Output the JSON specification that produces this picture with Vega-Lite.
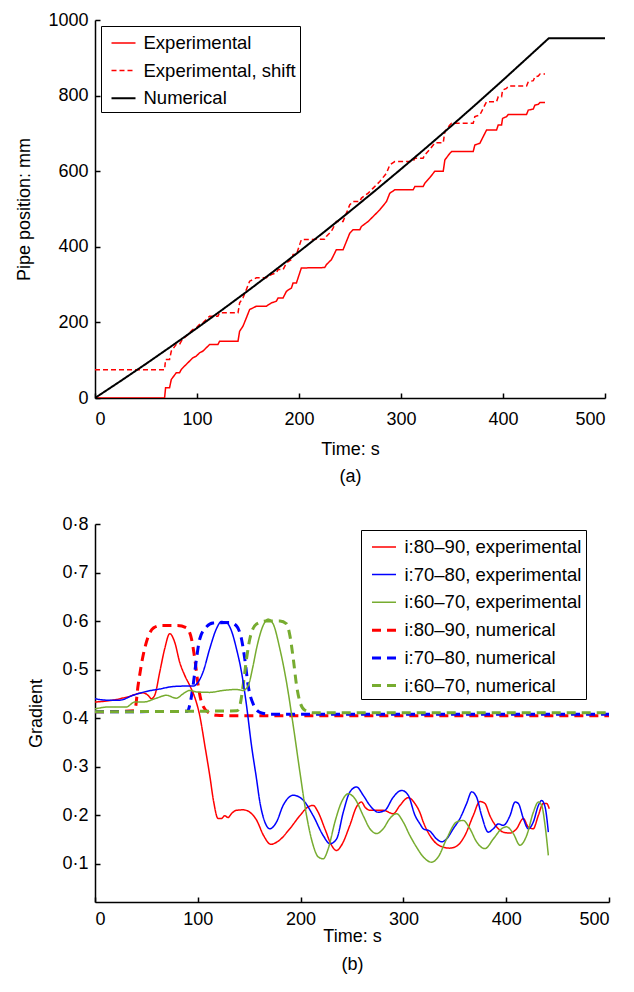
{
  "$schema": "https://vega.github.io/schema/vega-lite/v6.json",
  "padding": {"left": 15, "top": 11, "right": 5, "bottom": 5},
  "spacing": 30,
  "datasets": {
    "pos": [
      {"t": 0, "p": 0, "s": "Experimental"}, {"t": 68.2, "p": 0, "s": "Experimental"}, {"t": 69.2, "p": 27, "s": "Experimental"}, {"t": 73.1, "p": 27, "s": "Experimental"}, {"t": 74.8, "p": 49, "s": "Experimental"}, {"t": 79.7, "p": 66.8, "s": "Experimental"}, {"t": 82.9, "p": 66.8, "s": "Experimental"}, {"t": 84.6, "p": 75.6, "s": "Experimental"}, {"t": 87.8, "p": 84.4, "s": "Experimental"}, {"t": 92.7, "p": 97.6, "s": "Experimental"}, {"t": 96, "p": 106.4, "s": "Experimental"}, {"t": 99.3, "p": 110.8, "s": "Experimental"}, {"t": 102.5, "p": 119.6, "s": "Experimental"}, {"t": 105.8, "p": 124, "s": "Experimental"}, {"t": 112.4, "p": 141.6, "s": "Experimental"}, {"t": 120.5, "p": 141.6, "s": "Experimental"}, {"t": 122.2, "p": 150.4, "s": "Experimental"}, {"t": 140.2, "p": 150.4, "s": "Experimental"}, {"t": 141.8, "p": 176.8, "s": "Experimental"}, {"t": 145.1, "p": 190, "s": "Experimental"}, {"t": 148.4, "p": 212, "s": "Experimental"}, {"t": 151.6, "p": 234, "s": "Experimental"}, {"t": 158.2, "p": 242.8, "s": "Experimental"}, {"t": 168, "p": 242.8, "s": "Experimental"}, {"t": 172.9, "p": 251.6, "s": "Experimental"}, {"t": 177.8, "p": 256, "s": "Experimental"}, {"t": 179.5, "p": 264.8, "s": "Experimental"}, {"t": 184.4, "p": 264.8, "s": "Experimental"}, {"t": 187.7, "p": 282.4, "s": "Experimental"}, {"t": 192.6, "p": 291.2, "s": "Experimental"}, {"t": 194.2, "p": 304.4, "s": "Experimental"}, {"t": 197.5, "p": 304.4, "s": "Experimental"}, {"t": 199, "p": 317, "s": "Experimental"}, {"t": 202.3, "p": 344, "s": "Experimental"}, {"t": 225.2, "p": 345, "s": "Experimental"}, {"t": 226.8, "p": 352.6, "s": "Experimental"}, {"t": 231.7, "p": 365.8, "s": "Experimental"}, {"t": 233.4, "p": 374.6, "s": "Experimental"}, {"t": 236.6, "p": 392.2, "s": "Experimental"}, {"t": 243.2, "p": 392.2, "s": "Experimental"}, {"t": 246.5, "p": 414.2, "s": "Experimental"}, {"t": 249.8, "p": 436.2, "s": "Experimental"}, {"t": 253, "p": 445, "s": "Experimental"}, {"t": 259.6, "p": 445, "s": "Experimental"}, {"t": 261.2, "p": 453.8, "s": "Experimental"}, {"t": 267.8, "p": 467, "s": "Experimental"}, {"t": 272.7, "p": 480.2, "s": "Experimental"}, {"t": 279.2, "p": 497.8, "s": "Experimental"}, {"t": 285.8, "p": 519.8, "s": "Experimental"}, {"t": 289, "p": 541.8, "s": "Experimental"}, {"t": 293.9, "p": 550.6, "s": "Experimental"}, {"t": 311.9, "p": 550.6, "s": "Experimental"}, {"t": 313.6, "p": 559.4, "s": "Experimental"}, {"t": 321.7, "p": 559.4, "s": "Experimental"}, {"t": 323.4, "p": 568.2, "s": "Experimental"}, {"t": 328.3, "p": 583, "s": "Experimental"}, {"t": 333.2, "p": 600, "s": "Experimental"}, {"t": 341.4, "p": 600, "s": "Experimental"}, {"t": 343, "p": 629.8, "s": "Experimental"}, {"t": 347.9, "p": 647.4, "s": "Experimental"}, {"t": 349.6, "p": 651.8, "s": "Experimental"}, {"t": 370.8, "p": 651.8, "s": "Experimental"}, {"t": 372.4, "p": 669.4, "s": "Experimental"}, {"t": 377.3, "p": 673.8, "s": "Experimental"}, {"t": 380.6, "p": 691.4, "s": "Experimental"}, {"t": 383.9, "p": 709, "s": "Experimental"}, {"t": 393.7, "p": 709, "s": "Experimental"}, {"t": 395.3, "p": 722.2, "s": "Experimental"}, {"t": 398.6, "p": 722.2, "s": "Experimental"}, {"t": 399.6, "p": 739.8, "s": "Experimental"}, {"t": 403.5, "p": 744.2, "s": "Experimental"}, {"t": 405.2, "p": 750.3, "s": "Experimental"}, {"t": 423.1, "p": 750.3, "s": "Experimental"}, {"t": 424.8, "p": 761.7, "s": "Experimental"}, {"t": 429.7, "p": 764.4, "s": "Experimental"}, {"t": 431.3, "p": 774.9, "s": "Experimental"}, {"t": 434.6, "p": 776.7, "s": "Experimental"}, {"t": 436.3, "p": 782, "s": "Experimental"}, {"t": 441.2, "p": 782, "s": "Experimental"},
      {"t": 0, "p": 75, "s": "Experimental, shift"}, {"t": 68.2, "p": 75, "s": "Experimental, shift"}, {"t": 69.2, "p": 102, "s": "Experimental, shift"}, {"t": 73.1, "p": 102, "s": "Experimental, shift"}, {"t": 74.8, "p": 124, "s": "Experimental, shift"}, {"t": 79.7, "p": 141.8, "s": "Experimental, shift"}, {"t": 82.9, "p": 141.8, "s": "Experimental, shift"}, {"t": 84.6, "p": 150.6, "s": "Experimental, shift"}, {"t": 87.8, "p": 159.4, "s": "Experimental, shift"}, {"t": 92.7, "p": 172.6, "s": "Experimental, shift"}, {"t": 96, "p": 181.4, "s": "Experimental, shift"}, {"t": 99.3, "p": 185.8, "s": "Experimental, shift"}, {"t": 102.5, "p": 194.6, "s": "Experimental, shift"}, {"t": 105.8, "p": 199, "s": "Experimental, shift"}, {"t": 112.4, "p": 216.6, "s": "Experimental, shift"}, {"t": 120.5, "p": 216.6, "s": "Experimental, shift"}, {"t": 122.2, "p": 225.4, "s": "Experimental, shift"}, {"t": 140.2, "p": 225.4, "s": "Experimental, shift"}, {"t": 141.8, "p": 251.8, "s": "Experimental, shift"}, {"t": 145.1, "p": 265, "s": "Experimental, shift"}, {"t": 148.4, "p": 287, "s": "Experimental, shift"}, {"t": 151.6, "p": 309, "s": "Experimental, shift"}, {"t": 158.2, "p": 317.8, "s": "Experimental, shift"}, {"t": 168, "p": 317.8, "s": "Experimental, shift"}, {"t": 172.9, "p": 326.6, "s": "Experimental, shift"}, {"t": 177.8, "p": 331, "s": "Experimental, shift"}, {"t": 179.5, "p": 339.8, "s": "Experimental, shift"}, {"t": 184.4, "p": 339.8, "s": "Experimental, shift"}, {"t": 187.7, "p": 357.4, "s": "Experimental, shift"}, {"t": 192.6, "p": 366.2, "s": "Experimental, shift"}, {"t": 194.2, "p": 379.4, "s": "Experimental, shift"}, {"t": 197.5, "p": 379.4, "s": "Experimental, shift"}, {"t": 199, "p": 392, "s": "Experimental, shift"}, {"t": 202.3, "p": 419, "s": "Experimental, shift"}, {"t": 225.2, "p": 420, "s": "Experimental, shift"}, {"t": 226.8, "p": 427.6, "s": "Experimental, shift"}, {"t": 231.7, "p": 440.8, "s": "Experimental, shift"}, {"t": 233.4, "p": 449.6, "s": "Experimental, shift"}, {"t": 236.6, "p": 467.2, "s": "Experimental, shift"}, {"t": 243.2, "p": 467.2, "s": "Experimental, shift"}, {"t": 246.5, "p": 489.2, "s": "Experimental, shift"}, {"t": 249.8, "p": 511.2, "s": "Experimental, shift"}, {"t": 253, "p": 520, "s": "Experimental, shift"}, {"t": 259.6, "p": 520, "s": "Experimental, shift"}, {"t": 261.2, "p": 528.8, "s": "Experimental, shift"}, {"t": 267.8, "p": 542, "s": "Experimental, shift"}, {"t": 272.7, "p": 555.2, "s": "Experimental, shift"}, {"t": 279.2, "p": 572.8, "s": "Experimental, shift"}, {"t": 285.8, "p": 594.8, "s": "Experimental, shift"}, {"t": 289, "p": 616.8, "s": "Experimental, shift"}, {"t": 293.9, "p": 625.6, "s": "Experimental, shift"}, {"t": 311.9, "p": 625.6, "s": "Experimental, shift"}, {"t": 313.6, "p": 634.4, "s": "Experimental, shift"}, {"t": 321.7, "p": 634.4, "s": "Experimental, shift"}, {"t": 323.4, "p": 643.2, "s": "Experimental, shift"}, {"t": 328.3, "p": 658, "s": "Experimental, shift"}, {"t": 333.2, "p": 675, "s": "Experimental, shift"}, {"t": 341.4, "p": 675, "s": "Experimental, shift"}, {"t": 343, "p": 704.8, "s": "Experimental, shift"}, {"t": 347.9, "p": 722.4, "s": "Experimental, shift"}, {"t": 349.6, "p": 726.8, "s": "Experimental, shift"}, {"t": 370.8, "p": 726.8, "s": "Experimental, shift"}, {"t": 372.4, "p": 744.4, "s": "Experimental, shift"}, {"t": 377.3, "p": 748.8, "s": "Experimental, shift"}, {"t": 380.6, "p": 766.4, "s": "Experimental, shift"}, {"t": 383.9, "p": 784, "s": "Experimental, shift"}, {"t": 393.7, "p": 784, "s": "Experimental, shift"}, {"t": 395.3, "p": 797.2, "s": "Experimental, shift"}, {"t": 398.6, "p": 797.2, "s": "Experimental, shift"}, {"t": 399.6, "p": 814.8, "s": "Experimental, shift"}, {"t": 403.5, "p": 819.2, "s": "Experimental, shift"}, {"t": 405.2, "p": 825.3, "s": "Experimental, shift"}, {"t": 423.1, "p": 825.3, "s": "Experimental, shift"}, {"t": 424.8, "p": 836.7, "s": "Experimental, shift"}, {"t": 429.7, "p": 839.4, "s": "Experimental, shift"}, {"t": 431.3, "p": 849.9, "s": "Experimental, shift"}, {"t": 434.6, "p": 851.7, "s": "Experimental, shift"}, {"t": 436.3, "p": 857, "s": "Experimental, shift"}, {"t": 441.2, "p": 857, "s": "Experimental, shift"},
      {"t": 0, "p": 0, "s": "Numerical"}, {"t": 25, "p": 44.7, "s": "Numerical"}, {"t": 50, "p": 90.4, "s": "Numerical"}, {"t": 75, "p": 137.2, "s": "Numerical"}, {"t": 100, "p": 185, "s": "Numerical"}, {"t": 125, "p": 233.9, "s": "Numerical"}, {"t": 150, "p": 283.8, "s": "Numerical"}, {"t": 175, "p": 334.8, "s": "Numerical"}, {"t": 200, "p": 386.9, "s": "Numerical"}, {"t": 225, "p": 440, "s": "Numerical"}, {"t": 250, "p": 494.1, "s": "Numerical"}, {"t": 275, "p": 549.3, "s": "Numerical"}, {"t": 300, "p": 605.6, "s": "Numerical"}, {"t": 325, "p": 662.9, "s": "Numerical"}, {"t": 350, "p": 721.2, "s": "Numerical"}, {"t": 375, "p": 780.6, "s": "Numerical"}, {"t": 400, "p": 841.1, "s": "Numerical"}, {"t": 425, "p": 902.6, "s": "Numerical"}, {"t": 445, "p": 952, "s": "Numerical"}, {"t": 500, "p": 952, "s": "Numerical"}
    ],
    "grad": [
      {"t": 0, "g": 0.413, "s": "i:80–90, numerical"}, {"t": 38.6, "g": 0.415, "s": "i:80–90, numerical"}, {"t": 41.9, "g": 0.467, "s": "i:80–90, numerical"}, {"t": 46.8, "g": 0.529, "s": "i:80–90, numerical"}, {"t": 51.6, "g": 0.567, "s": "i:80–90, numerical"}, {"t": 57, "g": 0.586, "s": "i:80–90, numerical"}, {"t": 65, "g": 0.591, "s": "i:80–90, numerical"}, {"t": 80, "g": 0.591, "s": "i:80–90, numerical"}, {"t": 89, "g": 0.586, "s": "i:80–90, numerical"}, {"t": 93.9, "g": 0.563, "s": "i:80–90, numerical"}, {"t": 97.1, "g": 0.522, "s": "i:80–90, numerical"}, {"t": 100.4, "g": 0.467, "s": "i:80–90, numerical"}, {"t": 103.6, "g": 0.433, "s": "i:80–90, numerical"}, {"t": 110.1, "g": 0.412, "s": "i:80–90, numerical"}, {"t": 118.2, "g": 0.406, "s": "i:80–90, numerical"}, {"t": 130, "g": 0.405, "s": "i:80–90, numerical"}, {"t": 500, "g": 0.405, "s": "i:80–90, numerical"},
      {"t": 0, "g": 0.413, "s": "i:70–80, numerical"}, {"t": 90, "g": 0.414, "s": "i:70–80, numerical"}, {"t": 92.5, "g": 0.43, "s": "i:70–80, numerical"}, {"t": 95.4, "g": 0.467, "s": "i:70–80, numerical"}, {"t": 98.7, "g": 0.522, "s": "i:70–80, numerical"}, {"t": 101.9, "g": 0.563, "s": "i:70–80, numerical"}, {"t": 108.4, "g": 0.588, "s": "i:70–80, numerical"}, {"t": 114.9, "g": 0.596, "s": "i:70–80, numerical"}, {"t": 131.1, "g": 0.597, "s": "i:70–80, numerical"}, {"t": 137.6, "g": 0.59, "s": "i:70–80, numerical"}, {"t": 142.5, "g": 0.563, "s": "i:70–80, numerical"}, {"t": 145.7, "g": 0.522, "s": "i:70–80, numerical"}, {"t": 149, "g": 0.467, "s": "i:70–80, numerical"}, {"t": 153.9, "g": 0.429, "s": "i:70–80, numerical"}, {"t": 160.4, "g": 0.412, "s": "i:70–80, numerical"}, {"t": 170, "g": 0.408, "s": "i:70–80, numerical"}, {"t": 500, "g": 0.408, "s": "i:70–80, numerical"},
      {"t": 0, "g": 0.413, "s": "i:60–70, numerical"}, {"t": 138, "g": 0.415, "s": "i:60–70, numerical"}, {"t": 140.8, "g": 0.425, "s": "i:60–70, numerical"}, {"t": 144.1, "g": 0.467, "s": "i:60–70, numerical"}, {"t": 147.4, "g": 0.522, "s": "i:60–70, numerical"}, {"t": 150.6, "g": 0.563, "s": "i:60–70, numerical"}, {"t": 157.1, "g": 0.594, "s": "i:60–70, numerical"}, {"t": 166.9, "g": 0.6, "s": "i:60–70, numerical"}, {"t": 179.9, "g": 0.6, "s": "i:60–70, numerical"}, {"t": 186.4, "g": 0.594, "s": "i:60–70, numerical"}, {"t": 189.6, "g": 0.57, "s": "i:60–70, numerical"}, {"t": 192.9, "g": 0.522, "s": "i:60–70, numerical"}, {"t": 196.1, "g": 0.467, "s": "i:60–70, numerical"}, {"t": 199.4, "g": 0.433, "s": "i:60–70, numerical"}, {"t": 204.2, "g": 0.416, "s": "i:60–70, numerical"}, {"t": 212, "g": 0.411, "s": "i:60–70, numerical"}, {"t": 500, "g": 0.411, "s": "i:60–70, numerical"},
      {"t": 0, "g": 0.433, "s": "i:80–90, experimental"}, {"t": 14.3, "g": 0.436, "s": "i:80–90, experimental"}, {"t": 30.5, "g": 0.443, "s": "i:80–90, experimental"}, {"t": 46.7, "g": 0.452, "s": "i:80–90, experimental"}, {"t": 51.6, "g": 0.447, "s": "i:80–90, experimental"}, {"t": 54.9, "g": 0.44, "s": "i:80–90, experimental"}, {"t": 58.1, "g": 0.447, "s": "i:80–90, experimental"}, {"t": 63, "g": 0.495, "s": "i:80–90, experimental"}, {"t": 67.8, "g": 0.543, "s": "i:80–90, experimental"}, {"t": 72.7, "g": 0.574, "s": "i:80–90, experimental"}, {"t": 77.6, "g": 0.556, "s": "i:80–90, experimental"}, {"t": 82.4, "g": 0.515, "s": "i:80–90, experimental"}, {"t": 87.3, "g": 0.488, "s": "i:80–90, experimental"}, {"t": 92.2, "g": 0.467, "s": "i:80–90, experimental"}, {"t": 97, "g": 0.443, "s": "i:80–90, experimental"}, {"t": 101.9, "g": 0.405, "s": "i:80–90, experimental"}, {"t": 106.8, "g": 0.344, "s": "i:80–90, experimental"}, {"t": 111.6, "g": 0.282, "s": "i:80–90, experimental"}, {"t": 115.5, "g": 0.227, "s": "i:80–90, experimental"}, {"t": 119.7, "g": 0.193, "s": "i:80–90, experimental"}, {"t": 123, "g": 0.193, "s": "i:80–90, experimental"}, {"t": 126.2, "g": 0.199, "s": "i:80–90, experimental"}, {"t": 129.5, "g": 0.195, "s": "i:80–90, experimental"}, {"t": 132.7, "g": 0.203, "s": "i:80–90, experimental"}, {"t": 137.6, "g": 0.21, "s": "i:80–90, experimental"}, {"t": 144.1, "g": 0.211, "s": "i:80–90, experimental"}, {"t": 150.6, "g": 0.206, "s": "i:80–90, experimental"}, {"t": 157.1, "g": 0.19, "s": "i:80–90, experimental"}, {"t": 164, "g": 0.158, "s": "i:80–90, experimental"}, {"t": 171, "g": 0.14, "s": "i:80–90, experimental"}, {"t": 178, "g": 0.146, "s": "i:80–90, experimental"}, {"t": 189.5, "g": 0.172, "s": "i:80–90, experimental"}, {"t": 199.3, "g": 0.199, "s": "i:80–90, experimental"}, {"t": 207.3, "g": 0.217, "s": "i:80–90, experimental"}, {"t": 212.2, "g": 0.22, "s": "i:80–90, experimental"}, {"t": 217.1, "g": 0.206, "s": "i:80–90, experimental"}, {"t": 223.6, "g": 0.172, "s": "i:80–90, experimental"}, {"t": 230.1, "g": 0.138, "s": "i:80–90, experimental"}, {"t": 234.9, "g": 0.127, "s": "i:80–90, experimental"}, {"t": 239.8, "g": 0.138, "s": "i:80–90, experimental"}, {"t": 247.9, "g": 0.179, "s": "i:80–90, experimental"}, {"t": 254.4, "g": 0.217, "s": "i:80–90, experimental"}, {"t": 259.3, "g": 0.227, "s": "i:80–90, experimental"}, {"t": 262.5, "g": 0.217, "s": "i:80–90, experimental"}, {"t": 267.4, "g": 0.21, "s": "i:80–90, experimental"}, {"t": 280.4, "g": 0.21, "s": "i:80–90, experimental"}, {"t": 290.1, "g": 0.203, "s": "i:80–90, experimental"}, {"t": 296.6, "g": 0.22, "s": "i:80–90, experimental"}, {"t": 304.7, "g": 0.236, "s": "i:80–90, experimental"}, {"t": 311.2, "g": 0.224, "s": "i:80–90, experimental"}, {"t": 316.1, "g": 0.205, "s": "i:80–90, experimental"}, {"t": 319.3, "g": 0.186, "s": "i:80–90, experimental"}, {"t": 325.8, "g": 0.158, "s": "i:80–90, experimental"}, {"t": 332.3, "g": 0.141, "s": "i:80–90, experimental"}, {"t": 338.8, "g": 0.134, "s": "i:80–90, experimental"}, {"t": 345.2, "g": 0.132, "s": "i:80–90, experimental"}, {"t": 351.7, "g": 0.136, "s": "i:80–90, experimental"}, {"t": 359.8, "g": 0.158, "s": "i:80–90, experimental"}, {"t": 367.9, "g": 0.199, "s": "i:80–90, experimental"}, {"t": 374.4, "g": 0.228, "s": "i:80–90, experimental"}, {"t": 379.3, "g": 0.224, "s": "i:80–90, experimental"}, {"t": 384.1, "g": 0.199, "s": "i:80–90, experimental"}, {"t": 390.6, "g": 0.176, "s": "i:80–90, experimental"}, {"t": 397.1, "g": 0.165, "s": "i:80–90, experimental"}, {"t": 403.6, "g": 0.163, "s": "i:80–90, experimental"}, {"t": 410.1, "g": 0.172, "s": "i:80–90, experimental"}, {"t": 416.6, "g": 0.193, "s": "i:80–90, experimental"}, {"t": 421.4, "g": 0.176, "s": "i:80–90, experimental"}, {"t": 426.3, "g": 0.172, "s": "i:80–90, experimental"}, {"t": 431.2, "g": 0.199, "s": "i:80–90, experimental"}, {"t": 436, "g": 0.224, "s": "i:80–90, experimental"}, {"t": 439.3, "g": 0.224, "s": "i:80–90, experimental"}, {"t": 441.9, "g": 0.213, "s": "i:80–90, experimental"},
      {"t": 0, "g": 0.44, "s": "i:70–80, experimental"}, {"t": 11.1, "g": 0.437, "s": "i:70–80, experimental"}, {"t": 24, "g": 0.437, "s": "i:70–80, experimental"}, {"t": 37, "g": 0.447, "s": "i:70–80, experimental"}, {"t": 50, "g": 0.455, "s": "i:70–80, experimental"}, {"t": 63, "g": 0.46, "s": "i:70–80, experimental"}, {"t": 75.9, "g": 0.465, "s": "i:70–80, experimental"}, {"t": 88.9, "g": 0.466, "s": "i:70–80, experimental"}, {"t": 95.4, "g": 0.466, "s": "i:70–80, experimental"}, {"t": 100.3, "g": 0.474, "s": "i:70–80, experimental"}, {"t": 105.1, "g": 0.495, "s": "i:70–80, experimental"}, {"t": 111.6, "g": 0.543, "s": "i:70–80, experimental"}, {"t": 118.1, "g": 0.584, "s": "i:70–80, experimental"}, {"t": 123, "g": 0.599, "s": "i:70–80, experimental"}, {"t": 127.9, "g": 0.597, "s": "i:70–80, experimental"}, {"t": 132.7, "g": 0.58, "s": "i:70–80, experimental"}, {"t": 137.6, "g": 0.543, "s": "i:70–80, experimental"}, {"t": 142.5, "g": 0.495, "s": "i:70–80, experimental"}, {"t": 147.4, "g": 0.426, "s": "i:70–80, experimental"}, {"t": 152.2, "g": 0.344, "s": "i:70–80, experimental"}, {"t": 157.1, "g": 0.275, "s": "i:70–80, experimental"}, {"t": 160.3, "g": 0.228, "s": "i:70–80, experimental"}, {"t": 165.2, "g": 0.186, "s": "i:70–80, experimental"}, {"t": 170.1, "g": 0.172, "s": "i:70–80, experimental"}, {"t": 176.6, "g": 0.186, "s": "i:70–80, experimental"}, {"t": 183, "g": 0.22, "s": "i:70–80, experimental"}, {"t": 192.8, "g": 0.241, "s": "i:70–80, experimental"}, {"t": 202.5, "g": 0.231, "s": "i:70–80, experimental"}, {"t": 212.2, "g": 0.199, "s": "i:70–80, experimental"}, {"t": 222, "g": 0.158, "s": "i:70–80, experimental"}, {"t": 228.5, "g": 0.141, "s": "i:70–80, experimental"}, {"t": 235, "g": 0.151, "s": "i:70–80, experimental"}, {"t": 241.5, "g": 0.206, "s": "i:70–80, experimental"}, {"t": 248, "g": 0.248, "s": "i:70–80, experimental"}, {"t": 254.4, "g": 0.258, "s": "i:70–80, experimental"}, {"t": 260.9, "g": 0.241, "s": "i:70–80, experimental"}, {"t": 267.4, "g": 0.22, "s": "i:70–80, experimental"}, {"t": 275.6, "g": 0.206, "s": "i:70–80, experimental"}, {"t": 282.1, "g": 0.21, "s": "i:70–80, experimental"}, {"t": 290.1, "g": 0.237, "s": "i:70–80, experimental"}, {"t": 298.3, "g": 0.251, "s": "i:70–80, experimental"}, {"t": 304.7, "g": 0.241, "s": "i:70–80, experimental"}, {"t": 311.2, "g": 0.2, "s": "i:70–80, experimental"}, {"t": 316.1, "g": 0.182, "s": "i:70–80, experimental"}, {"t": 319.3, "g": 0.172, "s": "i:70–80, experimental"}, {"t": 325.8, "g": 0.167, "s": "i:70–80, experimental"}, {"t": 332.3, "g": 0.151, "s": "i:70–80, experimental"}, {"t": 337.2, "g": 0.145, "s": "i:70–80, experimental"}, {"t": 342, "g": 0.151, "s": "i:70–80, experimental"}, {"t": 348.5, "g": 0.172, "s": "i:70–80, experimental"}, {"t": 355, "g": 0.193, "s": "i:70–80, experimental"}, {"t": 361.5, "g": 0.224, "s": "i:70–80, experimental"}, {"t": 366.4, "g": 0.248, "s": "i:70–80, experimental"}, {"t": 371.2, "g": 0.237, "s": "i:70–80, experimental"}, {"t": 376.1, "g": 0.199, "s": "i:70–80, experimental"}, {"t": 382.6, "g": 0.165, "s": "i:70–80, experimental"}, {"t": 387.5, "g": 0.172, "s": "i:70–80, experimental"}, {"t": 392.4, "g": 0.182, "s": "i:70–80, experimental"}, {"t": 397.2, "g": 0.179, "s": "i:70–80, experimental"}, {"t": 403.7, "g": 0.199, "s": "i:70–80, experimental"}, {"t": 408.6, "g": 0.227, "s": "i:70–80, experimental"}, {"t": 411.8, "g": 0.224, "s": "i:70–80, experimental"}, {"t": 416.7, "g": 0.193, "s": "i:70–80, experimental"}, {"t": 421.5, "g": 0.172, "s": "i:70–80, experimental"}, {"t": 426.4, "g": 0.186, "s": "i:70–80, experimental"}, {"t": 431.3, "g": 0.22, "s": "i:70–80, experimental"}, {"t": 434.5, "g": 0.23, "s": "i:70–80, experimental"}, {"t": 437.8, "g": 0.217, "s": "i:70–80, experimental"}, {"t": 441, "g": 0.165, "s": "i:70–80, experimental"},
      {"t": 0, "g": 0.419, "s": "i:60–70, experimental"}, {"t": 14.3, "g": 0.423, "s": "i:60–70, experimental"}, {"t": 30.5, "g": 0.423, "s": "i:60–70, experimental"}, {"t": 38.6, "g": 0.433, "s": "i:60–70, experimental"}, {"t": 46.7, "g": 0.433, "s": "i:60–70, experimental"}, {"t": 59.7, "g": 0.441, "s": "i:60–70, experimental"}, {"t": 69.4, "g": 0.447, "s": "i:60–70, experimental"}, {"t": 79.2, "g": 0.441, "s": "i:60–70, experimental"}, {"t": 85.6, "g": 0.45, "s": "i:60–70, experimental"}, {"t": 92.2, "g": 0.457, "s": "i:60–70, experimental"}, {"t": 98.7, "g": 0.454, "s": "i:60–70, experimental"}, {"t": 111.6, "g": 0.453, "s": "i:60–70, experimental"}, {"t": 124.6, "g": 0.457, "s": "i:60–70, experimental"}, {"t": 137.6, "g": 0.459, "s": "i:60–70, experimental"}, {"t": 144.1, "g": 0.457, "s": "i:60–70, experimental"}, {"t": 149, "g": 0.467, "s": "i:60–70, experimental"}, {"t": 153.8, "g": 0.508, "s": "i:60–70, experimental"}, {"t": 157.1, "g": 0.543, "s": "i:60–70, experimental"}, {"t": 163.6, "g": 0.591, "s": "i:60–70, experimental"}, {"t": 168.4, "g": 0.604, "s": "i:60–70, experimental"}, {"t": 173.3, "g": 0.594, "s": "i:60–70, experimental"}, {"t": 179.8, "g": 0.543, "s": "i:60–70, experimental"}, {"t": 186.3, "g": 0.474, "s": "i:60–70, experimental"}, {"t": 192.8, "g": 0.385, "s": "i:60–70, experimental"}, {"t": 199.3, "g": 0.289, "s": "i:60–70, experimental"}, {"t": 205.8, "g": 0.199, "s": "i:60–70, experimental"}, {"t": 212.2, "g": 0.138, "s": "i:60–70, experimental"}, {"t": 217.1, "g": 0.114, "s": "i:60–70, experimental"}, {"t": 222, "g": 0.11, "s": "i:60–70, experimental"}, {"t": 226.9, "g": 0.131, "s": "i:60–70, experimental"}, {"t": 233.4, "g": 0.186, "s": "i:60–70, experimental"}, {"t": 239.8, "g": 0.227, "s": "i:60–70, experimental"}, {"t": 246.3, "g": 0.244, "s": "i:60–70, experimental"}, {"t": 252.8, "g": 0.234, "s": "i:60–70, experimental"}, {"t": 260.9, "g": 0.199, "s": "i:60–70, experimental"}, {"t": 267.4, "g": 0.172, "s": "i:60–70, experimental"}, {"t": 273.9, "g": 0.162, "s": "i:60–70, experimental"}, {"t": 280.4, "g": 0.172, "s": "i:60–70, experimental"}, {"t": 286.8, "g": 0.193, "s": "i:60–70, experimental"}, {"t": 293.3, "g": 0.203, "s": "i:60–70, experimental"}, {"t": 299.8, "g": 0.186, "s": "i:60–70, experimental"}, {"t": 306.3, "g": 0.158, "s": "i:60–70, experimental"}, {"t": 312.8, "g": 0.134, "s": "i:60–70, experimental"}, {"t": 319.3, "g": 0.114, "s": "i:60–70, experimental"}, {"t": 327.4, "g": 0.103, "s": "i:60–70, experimental"}, {"t": 333.9, "g": 0.114, "s": "i:60–70, experimental"}, {"t": 342, "g": 0.151, "s": "i:60–70, experimental"}, {"t": 351.8, "g": 0.186, "s": "i:60–70, experimental"}, {"t": 358.2, "g": 0.189, "s": "i:60–70, experimental"}, {"t": 364.7, "g": 0.172, "s": "i:60–70, experimental"}, {"t": 371.2, "g": 0.145, "s": "i:60–70, experimental"}, {"t": 379.3, "g": 0.131, "s": "i:60–70, experimental"}, {"t": 387.5, "g": 0.151, "s": "i:60–70, experimental"}, {"t": 395.6, "g": 0.172, "s": "i:60–70, experimental"}, {"t": 400.4, "g": 0.176, "s": "i:60–70, experimental"}, {"t": 406.9, "g": 0.162, "s": "i:60–70, experimental"}, {"t": 413.4, "g": 0.138, "s": "i:60–70, experimental"}, {"t": 419.9, "g": 0.158, "s": "i:60–70, experimental"}, {"t": 426.4, "g": 0.206, "s": "i:60–70, experimental"}, {"t": 431.3, "g": 0.227, "s": "i:60–70, experimental"}, {"t": 434.5, "g": 0.22, "s": "i:60–70, experimental"}, {"t": 437.8, "g": 0.179, "s": "i:60–70, experimental"}, {"t": 441, "g": 0.117, "s": "i:60–70, experimental"}
    ]
  },
  "vconcat": [
    {
      "width": 510,
      "height": 378,
      "data": {"name": "pos"},
      "mark": {"type": "line", "clip": true},
      "encoding": {
        "x": {"field": "t", "type": "quantitative", "scale": {"domain": [0, 500], "nice": false},
              "axis": {"values": [0, 100, 200, 300, 400, 500], "title": ["Time: s", "(a)"], "titleLineHeight": 27, "titlePadding": 12, "labelPadding": 17}},
        "y": {"field": "p", "type": "quantitative", "scale": {"domain": [0, 1000], "nice": false},
              "axis": {"values": [0, 200, 400, 600, 800, 1000], "format": "d", "title": "Pipe position: mm", "titlePadding": 14, "labelPadding": 12}},
        "color": {"field": "s", "type": "nominal",
                  "scale": {"domain": ["Experimental", "Experimental, shift", "Numerical"], "range": ["#ff0000", "#ff0000", "#000000"]},
                  "legend": {"title": null, "orient": "none", "legendX": 6, "legendY": 6}},
        "strokeDash": {"field": "s", "type": "nominal",
                  "scale": {"domain": ["Experimental", "Experimental, shift", "Numerical"], "range": [[1, 0], [5, 3], [1, 0]]},
                  "legend": {"title": null, "orient": "none", "legendX": 6, "legendY": 6}},
        "strokeWidth": {"field": "s", "type": "nominal",
                  "scale": {"type": "ordinal", "domain": ["Experimental", "Experimental, shift", "Numerical"], "range": [1.5, 1.5, 2]},
                  "legend": {"title": null, "orient": "none", "legendX": 6, "legendY": 6}}
      }
    },
    {
      "width": 514,
      "height": 378,
      "data": {"name": "grad"},
      "mark": {"type": "line", "interpolate": "monotone", "clip": true},
      "encoding": {
        "x": {"field": "t", "type": "quantitative", "scale": {"domain": [0, 500], "nice": false},
              "axis": {"values": [0, 100, 200, 300, 400, 500], "title": ["Time: s", "(b)"], "titleLineHeight": 28, "titlePadding": -1, "labelPadding": 13}},
        "y": {"field": "g", "type": "quantitative", "scale": {"domain": [0.021, 0.8], "nice": false, "zero": false},
              "axis": {"values": [0.1, 0.2, 0.3, 0.4, 0.5, 0.6, 0.7, 0.8], "labelExpr": "replace(format(datum.value, '.1f'), '.', '·')", "title": "Gradient", "titlePadding": 16, "labelPadding": 12}},
        "color": {"field": "s", "type": "nominal",
                  "scale": {"domain": ["i:80–90, experimental", "i:70–80, experimental", "i:60–70, experimental", "i:80–90, numerical", "i:70–80, numerical", "i:60–70, numerical"],
                            "range": ["#ff0000", "#0000ff", "#77ac30", "#ff0000", "#0000ff", "#77ac30"]},
                  "legend": {"title": null, "orient": "none", "legendX": 266, "legendY": 6}},
        "strokeDash": {"field": "s", "type": "nominal",
                  "scale": {"domain": ["i:80–90, experimental", "i:70–80, experimental", "i:60–70, experimental", "i:80–90, numerical", "i:70–80, numerical", "i:60–70, numerical"],
                            "range": [[1, 0], [1, 0], [1, 0], [9, 6], [9, 6], [9, 6]]},
                  "legend": {"title": null, "orient": "none", "legendX": 266, "legendY": 6}},
        "strokeWidth": {"field": "s", "type": "nominal",
                  "scale": {"type": "ordinal", "domain": ["i:80–90, experimental", "i:70–80, experimental", "i:60–70, experimental", "i:80–90, numerical", "i:70–80, numerical", "i:60–70, numerical"],
                            "range": [1.5, 1.5, 1.5, 3, 3, 3]},
                  "legend": {"title": null, "orient": "none", "legendX": 266, "legendY": 6}}
      }
    }
  ],
  "resolve": {"scale": {"color": "independent", "strokeDash": "independent", "strokeWidth": "independent"}, "legend": {"color": "independent", "strokeDash": "independent", "strokeWidth": "independent"}},
  "config": {
    "font": "Liberation Sans",
    "view": {"stroke": null},
    "axis": {"grid": false, "domainColor": "#000000", "domainWidth": 1.5, "tickColor": "#000000", "tickWidth": 1.5, "tickSize": -5,
             "labelColor": "#000000", "labelFontSize": 18, "titleColor": "#000000", "titleFontSize": 18, "titleFontWeight": "normal"},
    "legend": {"strokeColor": "#000000", "fillColor": "#ffffff", "padding": 4, "symbolOffset": 5.5, "labelFontSize": 18.5, "labelColor": "#000000", "labelLimit": 400,
               "symbolType": "stroke", "symbolSize": 576, "rowPadding": 4.6, "labelOffset": 7}
  }
}
